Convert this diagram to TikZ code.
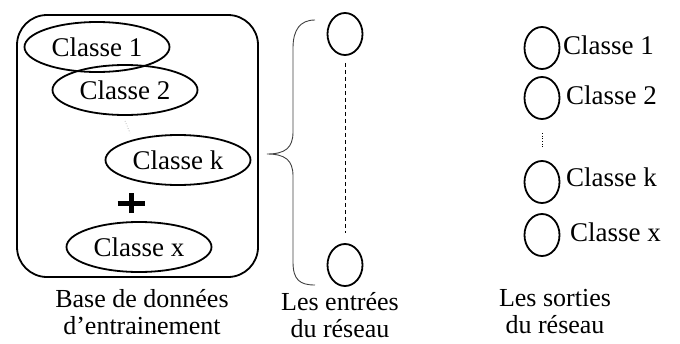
\documentclass[tikz,border=0pt]{standalone}
\usepackage{fontspec}
\setmainfont{Liberation Serif}
\usetikzlibrary{shapes.geometric}
\begin{document}
\begin{tikzpicture}[x=1pt,y=-1pt,
  cls/.style={ellipse, draw, line width=1.8pt, minimum width=145pt, minimum height=50pt, inner sep=0pt, font=\fontsize{27}{30}\selectfont},
  neuron/.style={ellipse, draw, line width=1.8pt, minimum width=35pt, minimum height=42pt, inner sep=0pt},
  lbl/.style={anchor=west, font=\fontsize{27}{30}\selectfont, inner sep=0pt},
  captxt/.style={align=center, font=\fontsize{26}{27}\selectfont, inner sep=0pt}]
\useasboundingbox (0,0) rectangle (680,343);
% database box
\draw[line width=1.8pt, rounded corners=30pt] (17,15) rectangle (258,277);
\node[cls] (c1) at (97,47) {Classe 1};
\node[cls] (c2) at (125,90) {Classe 2};
\node[cls] (ck) at (178,160) {Classe k};
\node[cls] (cx) at (139,247) {Classe x};
\coordinate (d1) at (125,121);
\coordinate (d2) at (130,133);
\draw[dotted, line width=0.6pt, gray] (d1) -- (d2);
\coordinate (plus) at (131,203);
\draw[line width=5pt] ([xshift=-13.5pt]plus) -- ([xshift=13.5pt]plus);
\draw[line width=5pt] ([yshift=-10pt]plus) -- ([yshift=10pt]plus);
\node[captxt] (capdb) at (142,312) {Base de données\\d’entrainement};
% brace
\coordinate (bt) at (315,20);
\coordinate (bb) at (315,285);
\coordinate (btip) at (267,154);
\draw[line width=0.9pt, black!75] (bt) .. controls (300,20) and (293,30) .. (293,48) -- (293,132)
  .. controls (293,148) and (285,154) .. (btip)
  .. controls (285,154) and (293,160) .. (293,176) -- (293,262)
  .. controls (293,280) and (300,285) .. (bb);
% inputs
\node[neuron] (i1) at (345,34) {};
\node[neuron] (i2) at (345,265) {};
\draw[dashed, line width=1pt, dash pattern=on 4pt off 3pt, shorten <=7pt, shorten >=10pt] (i1.south) -- (i2.north);
\node[captxt] (capin) at (340,315) {Les entrées\\du réseau};
% outputs
\node[neuron] (o1) at (542,48) {};
\node[neuron] (o2) at (542,98) {};
\node[neuron] (ok) at (542,182) {};
\node[neuron] (ox) at (542,235) {};
\draw[dotted, line width=0.7pt, shorten <=13pt, shorten >=13pt] (o2.south) -- (ok.north);
\node[lbl] (l1) at (563,45) {Classe 1};
\node[lbl] (l2) at (566,95) {Classe 2};
\node[lbl] (lk) at (566,177) {Classe k};
\node[lbl] (lx) at (570,232) {Classe x};
\node[captxt] (capout) at (555,312) {Les sorties\\du réseau};
\end{tikzpicture}
\end{document}
